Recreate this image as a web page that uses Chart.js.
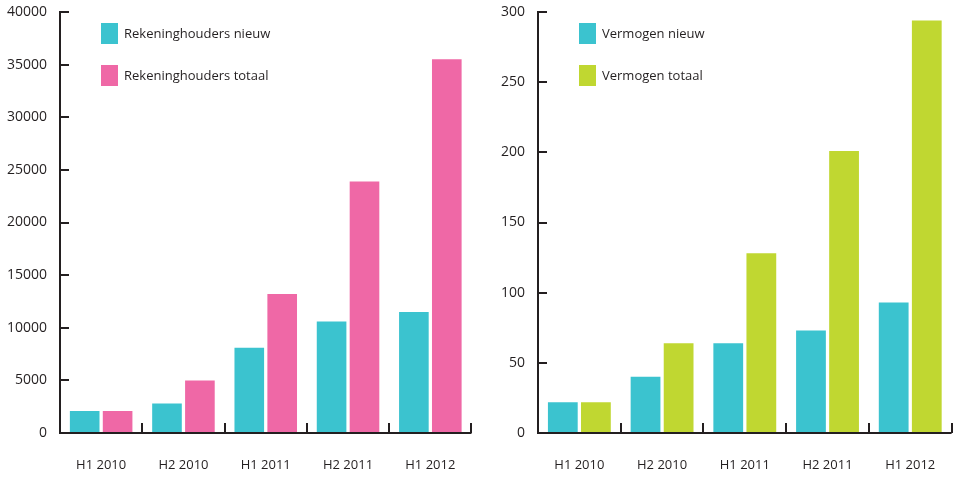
<!DOCTYPE html>
<html lang="en">
<head>
    <meta charset="UTF-8">
    <title>Rekeninghouders en vermogen</title>
    <style>
        body{
            margin: 0;
            overflow: hidden;
            background: #fff;
            font-family: "Open Sans", sans-serif;
        }
        .wrap{
            position: absolute;
            top: 0;
            width: 480px;
            height: 477px;
        }
    </style>
</head>
<body>
<div class="wrap" style="left:0"><canvas id="left" width="480" height="477"></canvas></div>
<div class="wrap" style="left:480px"><canvas id="right" width="480" height="477"></canvas></div>
<script src="https://cdn.jsdelivr.net/npm/chart.js"></script>
<script>
    const categories = ['H1 2010', 'H2 2010', 'H1 2011', 'H2 2011', 'H1 2012'];

    const rekeninghoudersNieuw = [2100, 2800, 8100, 10600, 11500];
    const rekeninghoudersTotaal = [2100, 5000, 13200, 23900, 35500];

    const vermogenNieuw = [22, 40, 64, 73, 93];
    const vermogenTotaal = [22, 64, 128, 201, 294];

    const leftAxis = {max: 40000, step: 5000};
    const rightAxis = {max: 300, step: 50};

    const CYAN = '#3bc3cf';
    const PINK = '#ef68a6';
    const GREEN = '#c0d731';
    const INK = '#231f20';
    const FONT = '"Open Sans", sans-serif';

    // axis lines and inward tick marks, drawn on top of the bars
    const axisPlugin = {
        id: 'axisLines',
        afterDatasetsDraw(chart) {
            const ctx = chart.ctx;
            const a = chart.chartArea;
            const x = chart.scales.x;
            const y = chart.scales.y;
            ctx.save();
            ctx.strokeStyle = INK;
            ctx.lineWidth = 2;
            ctx.beginPath();
            ctx.moveTo(a.left, y.getPixelForValue(y.max) - 1);
            ctx.lineTo(a.left, a.bottom);
            ctx.lineTo(a.right, a.bottom);
            y.ticks.forEach(t => {
                const py = Math.round(y.getPixelForValue(t.value));
                ctx.moveTo(a.left, py);
                ctx.lineTo(a.left + 9, py);
            });
            const n = chart.data.labels.length;
            for (let i = 1; i <= n; i++) {
                const bx = i < n ? (x.getPixelForValue(i - 1) + x.getPixelForValue(i)) / 2 : a.right;
                ctx.moveTo(Math.round(bx), a.bottom);
                ctx.lineTo(Math.round(bx), a.bottom - 10);
            }
            ctx.stroke();
            ctx.restore();
        }
    };

    // vertical legend inside the plot, top left
    const legendPlugin = {
        id: 'boxLegend',
        afterDraw(chart) {
            const ctx = chart.ctx;
            const a = chart.chartArea;
            ctx.save();
            ctx.font = '13px ' + FONT;
            ctx.textBaseline = 'middle';
            ctx.fillStyle = INK;
            chart.data.datasets.forEach((ds, i) => {
                const bx = a.left + 41;
                const by = 23 + i * 42;
                ctx.fillStyle = ds.backgroundColor;
                ctx.fillRect(bx, by, 17, 21);
                ctx.fillStyle = INK;
                ctx.fillText(ds.label, bx + 23, by + 11);
            });
            ctx.restore();
        }
    };

    function makeChart(id, labels, series, colors, axis, leftWidth, rightPad) {
        return new Chart(document.getElementById(id), {
            type: 'bar',
            data: {
                labels: categories,
                datasets: series.map((s, i) => ({
                    label: labels[i],
                    data: s,
                    backgroundColor: colors[i],
                    borderWidth: 0
                }))
            },
            options: {
                responsive: false,
                animation: false,
                layout: {padding: {top: 12, right: rightPad, bottom: 0, left: 0}},
                plugins: {legend: {display: false}, tooltip: {enabled: false}},
                scales: {
                    x: {
                        grid: {display: false, drawTicks: false},
                        border: {display: false},
                        ticks: {color: INK, font: {family: FONT, size: 13}, padding: 24},
                        afterFit(scale) { scale.height = 44; }
                    },
                    y: {
                        min: 0,
                        max: axis.max,
                        grid: {display: false, drawTicks: false},
                        border: {display: false},
                        ticks: {
                            stepSize: axis.step,
                            color: INK,
                            font: {family: FONT, size: 14},
                            padding: 13,
                            callback: v => String(v)
                        },
                        afterFit(scale) {
                            scale.width = leftWidth;
                            scale.paddingTop = 0;
                            scale.paddingBottom = 0;
                        }
                    }
                }
            },
            plugins: [axisPlugin, legendPlugin]
        });
    }

    makeChart('left', ['Rekeninghouders nieuw', 'Rekeninghouders totaal'],
        [rekeninghoudersNieuw, rekeninghoudersTotaal], [CYAN, PINK], leftAxis, 60, 6);
    makeChart('right', ['Vermogen nieuw', 'Vermogen totaal'],
        [vermogenNieuw, vermogenTotaal], [CYAN, GREEN], rightAxis, 58, 7);
</script>
</body>
</html>
